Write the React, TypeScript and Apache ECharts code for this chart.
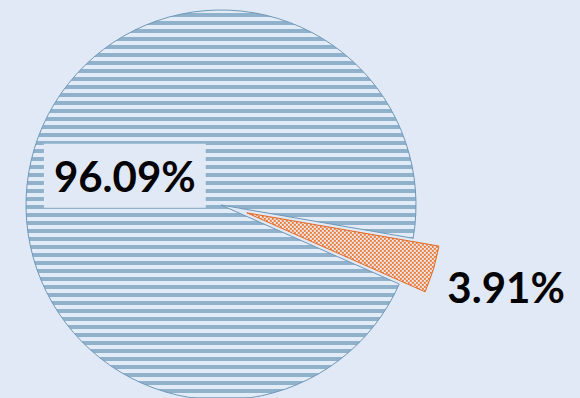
import React, { useEffect, useRef } from "react";
import * as echarts from "echarts";

const categories = ["Major share", "Minor share"];
const values = [96.09, 3.91];
const labels = ["96.09%", "3.91%"];

const BG = "#e0e9f5";

function stripePattern(): any {
  const c = document.createElement("canvas");
  c.width = 8;
  c.height = 8;
  const ctx = c.getContext("2d")!;
  ctx.fillStyle = "#e3ebf6";
  ctx.fillRect(0, 0, 8, 8);
  ctx.fillStyle = "#8fb1cb";
  ctx.fillRect(0, 5, 8, 3);
  ctx.fillRect(0, 0, 8, 1);
  return { image: c, repeat: "repeat", imageWidth: 8, imageHeight: 8 };
}

function checkerPattern(): any {
  const c = document.createElement("canvas");
  c.width = 4;
  c.height = 4;
  const ctx = c.getContext("2d")!;
  ctx.fillStyle = "#e6eef8";
  ctx.fillRect(0, 0, 4, 4);
  ctx.fillStyle = "#ee7933";
  ctx.fillRect(0, 0, 2, 2);
  ctx.fillRect(2, 2, 2, 2);
  return { image: c, repeat: "repeat", imageWidth: 4, imageHeight: 4 };
}

export default function App() {
  const ref = useRef<HTMLDivElement>(null);
  useEffect(() => {
    document.body.style.margin = "0";
    document.body.style.background = BG;
    const chart = echarts.init(ref.current!, null, { renderer: "svg" });
    const labelFont = {
      fontFamily: "Lato",
      fontWeight: "bold" as const,
      fontSize: 42,
      color: "#000",
    };
    const bigStyle = { color: stripePattern(), borderColor: "#6f98ba", borderWidth: 1 };
    const smallStyle = { color: checkerPattern(), borderColor: "#e36a28", borderWidth: 1 };
    chart.setOption({
      animation: false,
      backgroundColor: BG,
      series: [
        {
          type: "pie",
          center: [221, 205],
          radius: 195,
          startAngle: 336.1,
          clockwise: true,
          selectedMode: "single",
          selectedOffset: 27,
          avoidLabelOverlap: false,
          emphasis: { disabled: true },
          data: categories.map((name, i) => ({
            name,
            value: values[i],
            selected: i === 1,
            itemStyle: i === 0 ? bigStyle : smallStyle,
            select: { itemStyle: i === 0 ? bigStyle : smallStyle },
            label:
              i === 0
                ? {
                    show: true,
                    position: "inside",
                    formatter: () => labels[0],
                    backgroundColor: BG,
                    padding: [10, 10, 12, 10],
                    ...labelFont,
                  }
                : {
                    show: true,
                    position: "outside",
                    alignTo: "edge",
                    edgeDistance: 41,
                    overflow: "none",
                    formatter: () => labels[1],
                    ...labelFont,
                  },
            labelLine: { show: false, length: 61, length2: 10 },
          })),
        },
      ],
    });
    return () => chart.dispose();
  }, []);
  return (
    <div
      ref={ref}
      style={{ position: "fixed", left: 0, top: 0, width: 580, height: 398, background: BG }}
    />
  );
}
